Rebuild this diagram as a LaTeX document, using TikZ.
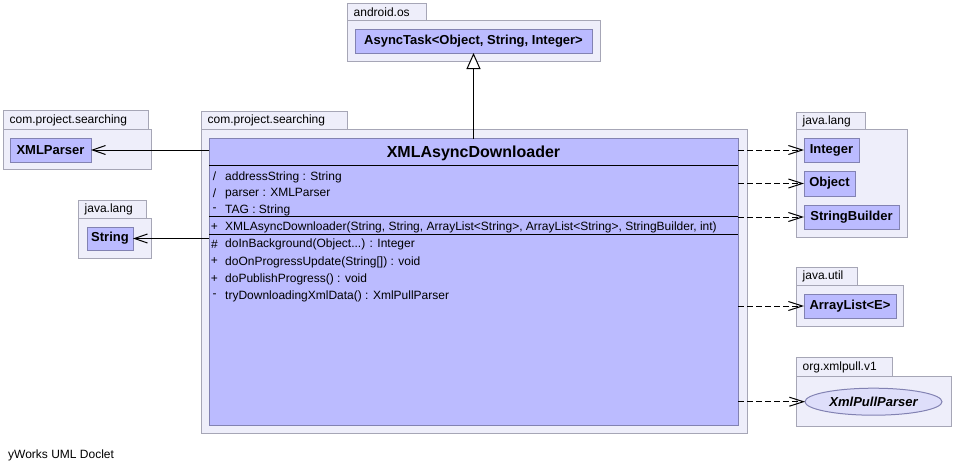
\documentclass[tikz,border=0pt]{standalone}
\usepackage{fontspec}
\setmainfont{Liberation Sans}
\usetikzlibrary{arrows.meta,shapes.geometric}
\definecolor{pkgfill}{RGB}{238,238,250}
\definecolor{pkgline}{RGB}{166,166,182}
\definecolor{clsfill}{RGB}{187,187,255}
\definecolor{clsline}{RGB}{130,130,178}
\definecolor{ellfill}{RGB}{222,222,250}
\newcommand\pkgfnt{\fontsize{12}{14}\selectfont}
\newcommand\memfnt{\fontsize{12}{14}\selectfont}
\newcommand\clsfnt{\fontsize{13}{15}\selectfont\bfseries}
\newcommand\ttlfnt{\fontsize{16}{19}\selectfont\bfseries}
\newcommand\mkbox[7]{\node[#1,anchor=north west,minimum width={#5-#3},minimum height={#6-#4}] (#2) at (#3,#4) {#7};}
\begin{document}
\begin{tikzpicture}[x=1pt,y=-1pt,
 pkg/.style={draw=pkgline,fill=pkgfill,line width=1pt,inner sep=0pt,outer sep=0pt},
 cls/.style={draw=clsline,fill=clsfill,line width=1pt,inner sep=0pt,outer sep=0pt,font=\clsfnt},
 pkgname/.style={anchor=west,inner sep=0pt,font=\pkgfnt,xshift=6.5pt,yshift=-0.5pt},
 mem/.style={anchor=west,inner sep=0pt,font=\memfnt},
 vis/.style={inner sep=0pt,font=\memfnt},
 div/.style={line width=1pt,black},
 gen/.style={line width=1pt,-{Triangle[fill=white,length=16pt,width=14pt]}},
 assoc/.style={line width=1pt,-{Straight Barb[length=13pt,width=9pt]}},
 dep/.style={line width=1pt,dash pattern=on 6pt off 3pt,-{Straight Barb[length=14pt,width=9pt]}},
]
\useasboundingbox (0,0) rectangle (953,471);
\fill[white] (0,0) rectangle (953,471);
% android.os
\mkbox{pkg}{tabA}{347}{3}{426}{20}{}
\mkbox{pkg}{pkgA}{347}{20}{600}{61}{}
\node[pkgname] (lblA) at (tabA.west) {android.os};
\mkbox{cls}{async}{355}{29}{592}{53}{AsyncTask<Object, String, Integer>}
% main package
\mkbox{pkg}{tabM}{201}{111}{347}{129}{}
\mkbox{pkg}{pkgM}{201}{129}{747}{433}{}
\node[pkgname] (lblM) at (tabM.west) {com.project.searching};
\mkbox{cls}{main}{209}{138.5}{738}{425}{}
\node[font=\ttlfnt,inner sep=0pt] (title) at (473.5,153.5) {XMLAsyncDownloader};
\draw[div] (main.west |- 0,165) -- (main.east |- 0,165);
\draw[div] (main.west |- 0,216.5) -- (main.east |- 0,216.5);
\draw[div] (main.west |- 0,234) -- (main.east |- 0,234);
\node[vis] (v1) at (214.5,176.5) {/};
\node[mem] (m1) at (225,177) {addressString : String};
\node[vis] (v2) at (214.5,193) {/};
\node[mem] (m2) at (225,193.5) {parser : XMLParser};
\node[vis] (v3) at (214.5,210) {-};
\node[mem] (m3) at (225,210.5) {TAG : String};
\node[vis] (v4) at (214.5,227) {+};
\node[mem] (m4) at (225,227.5) {XMLAsyncDownloader(String, String, ArrayList<String>, ArrayList<String>, StringBuilder, int)};
\node[vis] (v5) at (214.5,244) {\#};
\node[mem] (m5) at (225,244.5) {doInBackground(Object...) : Integer};
\node[vis] (v6) at (214.5,261.5) {+};
\node[mem] (m6) at (225,262) {doOnProgressUpdate(String[]) : void};
\node[vis] (v7) at (214.5,279) {+};
\node[mem] (m7) at (225,279.5) {doPublishProgress() : void};
\node[vis] (v8) at (214.5,296) {-};
\node[mem] (m8) at (225,296.5) {tryDownloadingXmlData() : XmlPullParser};
% left packages
\mkbox{pkg}{tabL1}{3}{110}{148}{129}{}
\mkbox{pkg}{pkgL1}{3}{129}{151}{169}{}
\node[pkgname] (lblL1) at (tabL1.west) {com.project.searching};
\mkbox{cls}{xmlparser}{10}{138}{91}{162}{XMLParser}
\mkbox{pkg}{tabL2}{78}{200}{146}{218}{}
\mkbox{pkg}{pkgL2}{78}{218}{151}{258}{}
\node[pkgname] (lblL2) at (tabL2.west) {java.lang};
\mkbox{cls}{string}{87}{227}{133}{250}{String}
% right packages
\mkbox{pkg}{tabR1}{796}{112}{865}{129}{}
\mkbox{pkg}{pkgR1}{796}{129}{907}{237}{}
\node[pkgname] (lblR1) at (tabR1.west) {java.lang};
\mkbox{cls}{integer}{804}{138}{859}{162}{Integer}
\mkbox{cls}{object}{804}{171}{855}{196}{Object}
\mkbox{cls}{sb}{804}{205}{899}{229}{StringBuilder}
\mkbox{pkg}{tabR2}{796}{267}{857}{285}{}
\mkbox{pkg}{pkgR2}{796}{285}{903}{326}{}
\node[pkgname] (lblR2) at (tabR2.west) {java.util};
\mkbox{cls}{arraylist}{804}{294}{896}{318}{ArrayList<E>}
\mkbox{pkg}{tabR3}{796}{357}{892}{376}{}
\mkbox{pkg}{pkgR3}{796}{376}{951}{426}{}
\node[pkgname] (lblR3) at (tabR3.west) {org.xmlpull.v1};
\node[ellipse,draw=clsline,fill=ellfill,line width=1pt,minimum width=137pt,minimum height=27pt,inner sep=0pt,outer sep=0pt,font=\clsfnt\itshape] (xpp) at (873.5,401.7) {XmlPullParser};
% connectors
\draw[gen] (main.north) -- (async.south);
\draw[assoc] (main.west |- xmlparser.east) -- (xmlparser.east);
\draw[assoc] (main.west |- string.east) -- (string.east);
\draw[dep] (main.east |- integer.west) -- (integer.west);
\draw[dep] (main.east |- object.west) -- (object.west);
\draw[dep] (main.east |- sb.west) -- (sb.west);
\draw[dep] (main.east |- arraylist.west) -- (arraylist.west);
\draw[dep] (main.east |- xpp.west) -- (xpp.west);
\node[font=\pkgfnt,anchor=west,inner sep=0pt] (credit) at (8,455) {yWorks UML Doclet};
\end{tikzpicture}
\end{document}
